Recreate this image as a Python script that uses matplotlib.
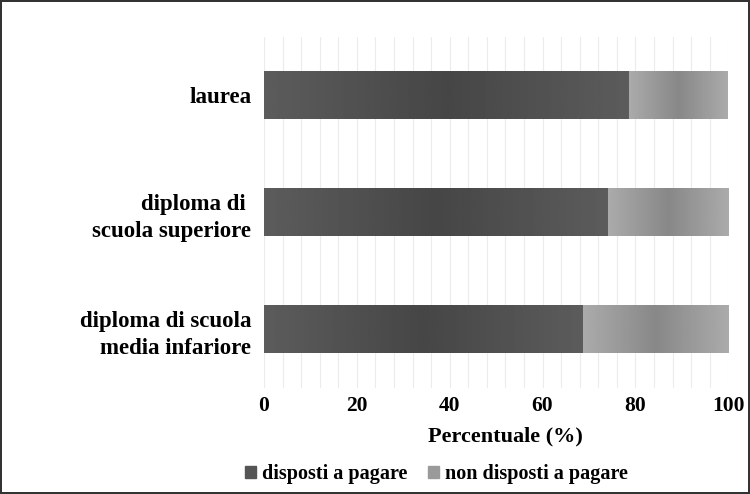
import matplotlib
matplotlib.use("Agg")
import matplotlib.pyplot as plt
import numpy as np
from matplotlib.patches import Patch

# data
categories = ["diploma di scuola\nmedia infariore", "diploma di \nscuola superiore", "laurea"]
disposti = [68.7, 74.0, 78.7]
non_disposti = [31.3, 26.0, 21.3]
series_names = ["disposti a pagare", "non disposti a pagare"]
xticks = [0, 20, 40, 60, 80, 100]

plt.rcParams['font.family'] = ['Liberation Serif', 'DejaVu Serif']
plt.rcParams['font.weight'] = 'bold'

fig = plt.figure(figsize=(7.5, 4.94), dpi=100)
fig.patch.set_edgecolor('#333333')
fig.patch.set_linewidth(1.5)
ax = fig.add_axes([0.352, 0.2146, 0.619, 0.7105])

bar_h = 0.41
# tent-like shading across each bar segment
t = np.linspace(0, 1, 200)
tent = 1 - np.abs(2 * t - 1)


def shaded_bar(y, left, width, edge, mid):
    vals = edge + (mid - edge) * tent
    img = np.tile(vals, (2, 1))
    ax.imshow(img, cmap='gray', vmin=0, vmax=1, aspect='auto',
              extent=(left, left + width, y - bar_h / 2, y + bar_h / 2),
              zorder=2, interpolation='bilinear')


ypos = np.arange(len(categories))
for i in ypos:
    shaded_bar(i, 0, disposti[i], 0x5c / 255, 0x46 / 255)
    shaded_bar(i, disposti[i], non_disposti[i], 0xab / 255, 0x88 / 255)

ax.set_xlim(0, 100)
ax.set_ylim(-0.5, len(categories) - 0.5)

# light vertical grid every 4 %
for g in np.arange(0, 101, 4):
    ax.axvline(g, color='#ececec', lw=0.8, zorder=0)

ax.set_xticks(xticks)
ax.set_yticks(ypos)
ax.set_yticklabels(categories, fontsize=16.5, fontweight='bold', linespacing=1.35)
ax.tick_params(axis='x', labelsize=15.5, length=0, pad=6)
ax.tick_params(axis='y', length=0, pad=9)
for s in ax.spines.values():
    s.set_visible(False)
ax.set_xlabel("Percentuale (%)", fontsize=16, fontweight='bold', labelpad=8)
ax.xaxis.set_label_coords(0.52, -0.11)

handles = [Patch(color='#555555'), Patch(color='#9a9a9a')]
fig.legend(handles, series_names, loc='center', bbox_to_anchor=(0.582, 0.04),
           ncol=2, frameon=False, fontsize=14.5, handlelength=0.55, handleheight=0.55,
           handletextpad=0.3, columnspacing=1.0)

fig.savefig("out.png", dpi=100, edgecolor=fig.get_edgecolor())
